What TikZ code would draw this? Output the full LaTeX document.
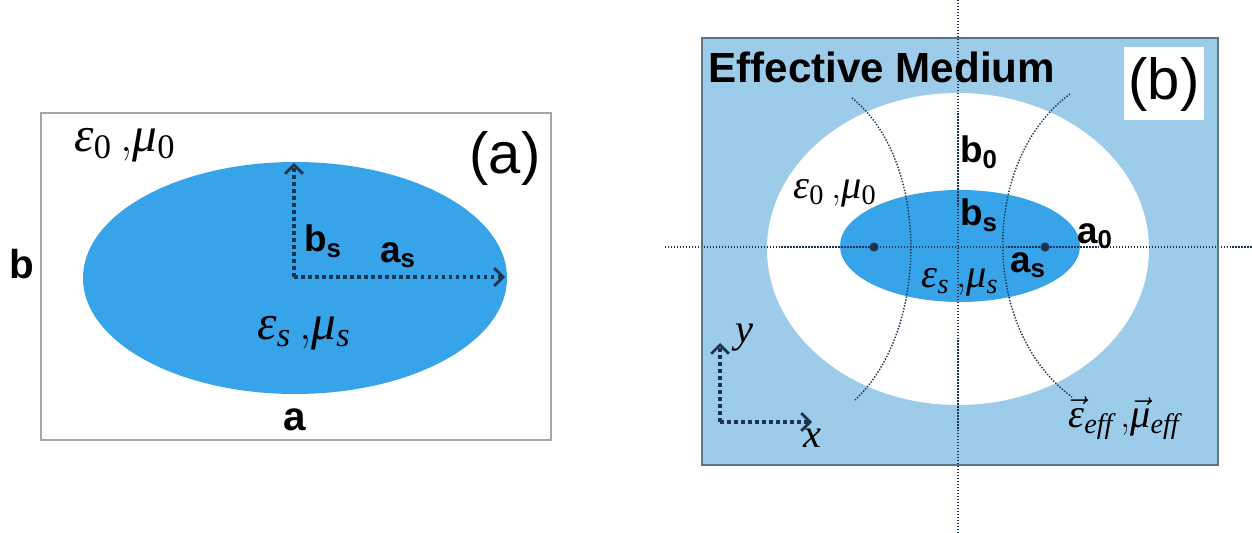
\RequirePackage{fix-cm}
\documentclass[tikz,border=0pt]{standalone}
\usepackage{amsmath}
\usepackage{fontspec}
\setsansfont{Liberation Sans}
\newfontfamily\tms{Liberation Serif}
\usetikzlibrary{arrows.meta}
\definecolor{scatblue}{RGB}{55,163,232}
\definecolor{effblue}{RGB}{157,204,235}
\definecolor{dotnavy}{RGB}{28,52,82}
\definecolor{framegray}{RGB}{95,115,130}
% italic Greek symbol with subscript
\newcommand{\gsub}[2]{{\tms\itshape #1}\textsubscript{\tms #2}}
\newcommand{\gvec}[2]{$\vec{\hbox{\tms\itshape #1}}$\textsubscript{\tms\itshape #2}}
\tikzset{
  axisdots/.style={dotnavy, line width=2.2pt, dash pattern=on 2pt off 2pt,
    -{Straight Barb[length=5pt,width=10pt,line width=1.6pt]}},
  finedots/.style={dotnavy, line width=0.8pt, dash pattern=on 0.8pt off 0.9pt},
  biglbl/.style={font=\fontsize{23}{27}\selectfont\sffamily\bfseries, inner sep=0pt},
  sublbl/.style={font=\fontsize{21}{25}\selectfont\sffamily\bfseries, inner sep=0pt},
  tag/.style={font=\fontsize{33}{40}\selectfont\sffamily, inner sep=0pt},
  bigmath/.style={font=\fontsize{28}{32}\selectfont, inner sep=0pt},
  smallmath/.style={font=\fontsize{23}{27}\selectfont, inner sep=0pt},
}

\begin{document}
\begin{tikzpicture}[x=0.02cm,y=-0.02cm]
    \useasboundingbox (0,0) rectangle (1252,533);

    %%% Panel (a) %%%
    \draw[gray!70, line width=0.8pt] (41,113) rectangle (551,440);
    \fill[scatblue] (295,278) ellipse [x radius=212, y radius=116];
    \coordinate (O) at (294,277);
    \coordinate (Btip) at (294,163);
    \coordinate (Atip) at (505,277);
    \draw[axisdots] (O) -- (Btip);
    \draw[axisdots] (O) -- (Atip);
    \node[bigmath] (epsA) at (125,145) {\gsub{ε}{0}\,,\gsub{μ}{0}};
    \node[tag] (tagA) at (505,158) {(a)};
    \node[biglbl] (bA) at (22,264) {b};
    \node[biglbl] (aA) at (295,420) {a};
    \node[sublbl] (bsA) at (323,241) {b\textsubscript{s}};
    \node[sublbl] (asA) at (398,255) {a\textsubscript{s}};
    \node[bigmath] (epssA) at (304,333) {\gsub{ε}{\itshape s}\,,\gsub{μ}{\itshape s}};

    %%% Panel (b) %%%
    \fill[effblue] (702,38) rectangle (1218,465);
    \fill[white] (958,249) ellipse [x radius=191, y radius=156];
    \fill[scatblue] (960,246) ellipse [x radius=120, y radius=56];
    \fill[white] (1124,47) rectangle (1204,120);
    \coordinate (F1) at (874,247);
    \coordinate (F2) at (1045,247);
    \fill[dotnavy] (F1) circle (2.6pt) (F2) circle (2.6pt);

    % field lines
    \draw[finedots] (852,98) .. controls (930,160) and (930,330) .. (855,400);
    \draw[finedots] (1070,94) .. controls (980,160) and (980,330) .. (1072,397);

    % axes of symmetry
    \coordinate (Vtop) at (958,0);    \coordinate (Vbot) at (958,533);
    \coordinate (Hleft) at (665,247); \coordinate (Hright) at (1252,247);
    \draw[finedots] (Vtop) -- (Vbot);
    \draw[finedots] (Hleft) -- (Hright);
    \draw[framegray, line width=0.9pt] (702,38) rectangle (1218,465);

    \node[font=\fontsize{24}{28}\selectfont\sffamily\bfseries, inner sep=0pt, anchor=base west]
        (effM) at (708,83) {Effective Medium};
    \node[tag] (tagB) at (1164,85) {(b)};
    \node[sublbl] (b0B) at (979,152) {b\textsubscript{0}};
    \node[sublbl] (bsB) at (979,215) {b\textsubscript{s}};
    \node[sublbl] (a0B) at (1095,236) {a\textsubscript{0}};
    \node[sublbl] (asB) at (1028,265) {a\textsubscript{s}};
    \node[smallmath] (eps0B) at (835,193) {\gsub{ε}{0}\,,\gsub{μ}{0}};
    \node[smallmath] (epssB) at (960,282) {\gsub{ε}{\itshape s}\,,\gsub{μ}{\itshape s}};
    \node[smallmath] (effB) at (1124,418) {\gvec{ε}{eff}\,,\gvec{μ}{eff}};

    % coordinate frame
    \coordinate (C) at (720,422);
    \coordinate (Ytip) at (720,343);
    \coordinate (Xtip) at (812,422);
    \draw[axisdots] (C) -- (Ytip);
    \draw[axisdots] (C) -- (Xtip);
    \node[smallmath] (yB) at (744,338) {\tms\itshape y};
    \node[smallmath] (xB) at (812,438) {\tms\itshape x};

\end{tikzpicture}
\end{document}
